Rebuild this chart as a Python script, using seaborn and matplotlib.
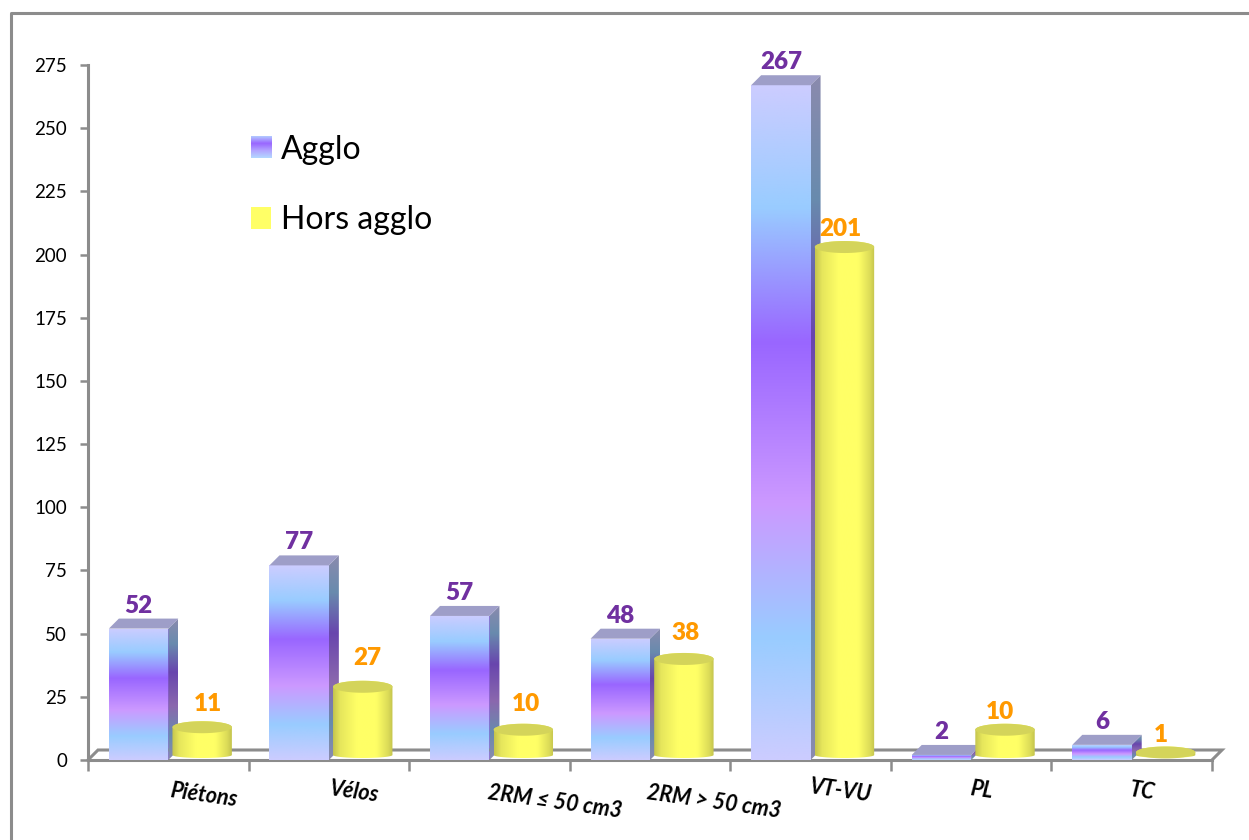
import numpy as np
import pandas as pd
import matplotlib
matplotlib.use("Agg")
import matplotlib.pyplot as plt
import seaborn as sns
from matplotlib.colors import LinearSegmentedColormap
from matplotlib.lines import Line2D
from matplotlib.patches import Patch, Polygon
from matplotlib.path import Path
from matplotlib.transforms import ScaledTranslation

categories = ["Piétons", "Vélos", "2RM ≤ 50 cm3", "2RM > 50 cm3", "VT-VU", "PL", "TC"]
agglo = [52, 77, 57, 48, 267, 2, 6]
hors_agglo = [11, 27, 10, 38, 201, 10, 1]
y_ticks = list(range(0, 276, 25))

# label placement, in pixels relative to the category / bar
cat_label_dx = [35, 26, 65, 64, 30, 10, 11]
cat_label_dy = [-2, 1, -9, -9, 2, 3, 2]
hors_label_dx = [6, 5, 3, 2, -4, -5, -5]
hors_label_dy = [28, 34, 31, 31, 23, 23, 22]

W, H = 1249, 840
L, R, T, B = 88, 1212, 65, 760
GRAY = "#8c8c8c"
PURPLE = "#7030a0"
ORANGE = "#ff9900"
VALUE_SIZE = 17.5

sns.set_theme(style="white")
plt.rcParams["font.family"] = ["Lato", "DejaVu Sans"]

fig = plt.figure(figsize=(W / 100, H / 100), dpi=100, facecolor="white")
ax = fig.add_axes([L / W, (H - B) / H, (R - L) / W, (B - T) / H])

df = pd.DataFrame({
    "cat": categories * 2,
    "serie": ["Agglo"] * 7 + ["Hors agglo"] * 7,
    "val": agglo + hors_agglo,
})
sns.barplot(data=df, x="cat", y="val", hue="serie", palette=["#9966ff", "#ffff66"],
            width=0.74, legend=False, ax=ax, saturation=1, linewidth=0)
ax.set_xlim(-0.5, 6.5)
ax.set_ylim(0, 275)
ax.set_xlabel("")
ax.set_ylabel("")

dxpx = 7 / (R - L)
dypx = 275 / (B - T)

top_stops = [(0, "#ccccff"), (0.18, "#99ccff"), (0.38, "#9966ff"),
             (0.62, "#cc99ff"), (0.82, "#99ccff"), (1, "#ccccff")]
front_cmap = LinearSegmentedColormap.from_list("front", top_stops)
side_cmap = LinearSegmentedColormap.from_list(
    "side", [(p, tuple(0.68 * c for c in matplotlib.colors.to_rgb(h))) for p, h in top_stops])
cyl_cmap = LinearSegmentedColormap.from_list(
    "cyl", [(0, "#c4c44e"), (0.12, "#e6e65c"), (0.4, "#ffff66"), (0.72, "#ffff66"),
            (0.92, "#dcdc58"), (1, "#c4c44e")])
vert = np.linspace(0, 1, 256).reshape(-1, 1)
horiz = np.linspace(0, 1, 256).reshape(1, -1)


def fill(grad, cmap, extent, verts, z):
    im = ax.imshow(grad, cmap=cmap, extent=extent, aspect="auto", origin="upper",
                   interpolation="bilinear", zorder=z)
    im.set_clip_path(Path(verts), ax.transData)
    im.set_clip_box(None)


# front faces, side faces and top faces of the Agglo boxes
for i, bar in enumerate(ax.containers[0]):
    x0, w, h = bar.get_x(), bar.get_width(), bar.get_height()
    bar.set_x(x0 + 0.002)
    x1 = x0 + w
    ox, oy = 10 * dxpx, 10 * dypx
    fill(vert, front_cmap, (x0, x1, 0, h), [(x0, 0), (x1, 0), (x1, h), (x0, h), (x0, 0)], 3)
    side = [(x1, 0), (x1 + ox, oy), (x1 + ox, h + oy), (x1, h), (x1, 0)]
    fill(vert, side_cmap, (x1, x1 + ox, 0, h + oy), side, 2.9)
    ax.add_patch(Polygon([(x0, h), (x0 + ox, h + oy), (x1 + ox, h + oy), (x1, h)],
                         closed=True, fc="#9e9ec8", ec="none", zorder=3.1, clip_on=False))
    ax.annotate(str(agglo[i]), (x0 + w / 2, h), xytext=(0, 23 * 0.72), textcoords="offset points",
                ha="center", va="center", color=PURPLE, fontsize=VALUE_SIZE, fontweight="heavy",
                annotation_clip=False, zorder=6)

# cylinders of the Hors agglo series
t = np.linspace(0, np.pi, 60)
for i, bar in enumerate(ax.containers[1]):
    bar.set_x(bar.get_x() + 0.026)
    bar.set_facecolor("none")
    x0, w, h = bar.get_x(), bar.get_width(), bar.get_height()
    xc = x0 + w / 2
    ytop = h + 5 * dypx
    ybase = 5 * dypx
    rx = w / 2
    ry = 6 * dypx
    rb = 3 * dypx
    lower = [(xc - rx * np.cos(a), ybase - rb * np.sin(a)) for a in t]
    upper = [(xc + rx * np.cos(a), ytop + ry * np.sin(a)) for a in t]
    body = lower + upper + [lower[0]]
    fill(horiz, cyl_cmap, (x0, x0 + w, 0, h + 30 * dypx), body, 4)
    cap = [(xc + rx * np.cos(a), ytop + ry * np.sin(a)) for a in np.linspace(0, 2 * np.pi, 100)]
    ax.add_patch(Polygon(cap, closed=True, fc="#d4d45a", ec="none", zorder=4.1, clip_on=False))
    ax.annotate(str(hors_agglo[i]), (xc, h),
                xytext=(hors_label_dx[i] * 0.72, hors_label_dy[i] * 0.72),
                textcoords="offset points", ha="center", va="center", color=ORANGE,
                fontsize=VALUE_SIZE, fontweight="heavy", annotation_clip=False, zorder=6)

# floor of the 3D scene
ox, oy = 10 * dxpx, 10 * dypx
ax.plot([-0.5, -0.5 + ox, 6.5 + ox, 6.5], [0, oy, oy, 0], color=GRAY, lw=2.2,
        clip_on=False, zorder=1, solid_joinstyle="miter")

# axes
sns.despine(ax=ax, top=True, right=True)
for s in ("left", "bottom"):
    ax.spines[s].set_color(GRAY)
    ax.spines[s].set_linewidth(2.2)
    ax.spines[s].set_zorder(2)
ax.set_yticks(y_ticks)
ax.tick_params(axis="y", length=6, width=1.8, color=GRAY, labelsize=13.5, labelcolor="black",
               pad=9, left=True)
ax.set_xticks(np.arange(7), categories)
ax.set_xticks(np.arange(-0.5, 7), minor=True)
ax.tick_params(axis="x", which="major", length=0, pad=24, labelsize=15.5, labelcolor="black")
ax.tick_params(axis="x", which="minor", length=8, width=1.8, color=GRAY, bottom=True)
for i, lab in enumerate(ax.get_xticklabels()):
    lab.set_fontweight("bold")
    lab.set_fontstyle("italic")
    lab.set_rotation(-8)
    lab.set_rotation_mode("anchor")
    lab.set_ha("center")
    lab.set_va("center")
    lab.set_transform(lab.get_transform() + ScaledTranslation(
        cat_label_dx[i] / 100, cat_label_dy[i] / 100, fig.dpi_scale_trans))

# legend
handles = [Patch(fc="#9966ff", ec="none", label="Agglo"), Patch(fc="#ffff66", ec="none", label="Hors agglo")]
leg = ax.legend(handles=handles, loc="upper left", bbox_to_anchor=((247 - 6 - L) / (R - L), (B - 125) / (B - T)),
                frameon=False, fontsize=23, handlelength=0.65, handleheight=0.65, handletextpad=0.3,
                labelspacing=1.27, borderpad=0.3, borderaxespad=0, labelcolor="black")
fig.canvas.draw()
hb = leg.legend_handles[0].get_window_extent()
(inv0, inv1) = ax.transData.inverted().transform([(hb.x0, hb.y0), (hb.x1, hb.y1)])
ax.imshow(vert, cmap=LinearSegmentedColormap.from_list(
    "leg", ["#b3ccff", "#9966ff", "#b3a6ff", "#b3d9ff"]),
    extent=(inv0[0], inv1[0], inv0[1], inv1[1]), aspect="auto", zorder=6, interpolation="bilinear")
ax.set_xlim(-0.5, 6.5)
ax.set_ylim(0, 275)

# outer frame of the picture
fx = lambda px: px / W
fy = lambda py: 1 - py / H
fig.add_artist(Line2D([fx(10.5), fx(10.5), 1], [0, fy(12.5), fy(12.5)], color=GRAY, lw=2.2))

fig.savefig("out.png", dpi=100)
